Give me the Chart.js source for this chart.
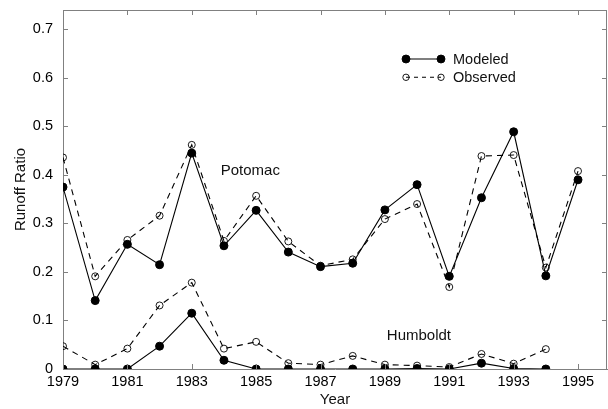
<!DOCTYPE html>
<html>
<head>
<meta charset="utf-8">
<script src="https://cdn.jsdelivr.net/npm/chart.js@4.4.1/dist/chart.umd.min.js"></script>
<style>
    html, body {margin: 0; padding: 0; background: #fff; overflow: hidden;}
    #wrap {width: 608px; height: 409px;}
</style>
</head>
<body>
<div id="wrap"><canvas id="runoff"></canvas></div>
<script>
// runoff ratio by water year, two basins
let years = [1979, 1980, 1981, 1982, 1983, 1984, 1985, 1986, 1987,
             1988, 1989, 1990, 1991, 1992, 1993, 1994, 1995]
let potomacModeled = [0.375, 0.141, 0.257, 0.215, 0.445, 0.254, 0.327, 0.241, 0.211,
                      0.218, 0.328, 0.380, 0.191, 0.353, 0.489, 0.192, 0.390]
let potomacObserved = [0.436, 0.191, 0.266, 0.316, 0.462, 0.264, 0.357, 0.263, 0.213,
                       0.226, 0.309, 0.340, 0.169, 0.439, 0.441, 0.209, 0.408]
let humboldtModeled = [0, 0, 0, 0.047, 0.115, 0.018, 0, 0, 0,
                       0, 0, 0.001, 0, 0.012, 0.001, 0]
let humboldtObserved = [0.047, 0.009, 0.042, 0.131, 0.178, 0.042, 0.056, 0.012, 0.009,
                        0.027, 0.009, 0.007, 0.004, 0.031, 0.011, 0.041]
let yearTicks = [1979, 1981, 1983, 1985, 1987, 1989, 1991, 1993, 1995]
let ratioTicks = [0, 0.1, 0.2, 0.3, 0.4, 0.5, 0.6, 0.7]
let basinLabels = [
    {text: "Potomac", x: 1983.9, y: 0.399},
    {text: "Humboldt", x: 1989.06, y: 0.059}
]

let font = "'Liberation Sans', Arial, Helvetica, sans-serif"
let axisColor = "#808080"

function toPoints (values) {
    return values.map((v, i) => ({x: years[i], y: v}))
}

function modeledSet (values) {
    return {
        data: toPoints(values), borderColor: "#000", borderWidth: 1.1,
        pointRadius: 4, pointBackgroundColor: "#000", pointBorderColor: "#000",
        pointBorderWidth: 1
    }
}

function observedSet (values) {
    return {
        data: toPoints(values), borderColor: "#000", borderWidth: 1.1, borderDash: [6, 5],
        pointRadius: 3.5, pointBackgroundColor: "rgba(0,0,0,0)", pointBorderColor: "#000",
        pointBorderWidth: 0.9
    }
}

// box, inward tick marks, basin names and the key
let decorations = {
    id: "decorations",
    afterDraw (chart) {
        let ctx = chart.ctx
        let a = chart.chartArea
        let xs = chart.scales.x
        let ys = chart.scales.y
        ctx.save()
        ctx.strokeStyle = axisColor
        ctx.lineWidth = 1
        ctx.beginPath()
        ctx.moveTo(a.left, a.top + 0.5)
        ctx.lineTo(a.right, a.top + 0.5)
        ctx.moveTo(a.right - 0.5, a.top)
        ctx.lineTo(a.right - 0.5, a.bottom)
        for (let t of yearTicks) {
            let px = Math.round(xs.getPixelForValue(t)) + 0.5
            ctx.moveTo(px, a.bottom)
            ctx.lineTo(px, a.bottom - 5)
            ctx.moveTo(px, a.top)
            ctx.lineTo(px, a.top + 5)
        }
        for (let t of ratioTicks) {
            let py = Math.round(ys.getPixelForValue(t)) + 0.5
            ctx.moveTo(a.left, py)
            ctx.lineTo(a.left + 5, py)
            ctx.moveTo(a.right, py)
            ctx.lineTo(a.right - 5, py)
        }
        ctx.stroke()

        ctx.fillStyle = "#111"
        ctx.font = "15px " + font
        ctx.textAlign = "left"
        ctx.textBaseline = "alphabetic"
        for (let lab of basinLabels) {
            ctx.fillText(lab.text, xs.getPixelForValue(lab.x), ys.getPixelForValue(lab.y))
        }

        // key
        let kx = a.left + 343
        let ky = a.top + 49
        let rows = [
            {text: "Modeled", dash: [], filled: true, r: 4},
            {text: "Observed", dash: [4, 4], filled: false, r: 3.2}
        ]
        rows.forEach((row, i) => {
            let y = ky + i * 18.3
            ctx.strokeStyle = "#000"
            ctx.lineWidth = 1.1
            ctx.setLineDash(row.dash)
            ctx.beginPath()
            ctx.moveTo(kx, y)
            ctx.lineTo(kx + 35, y)
            ctx.stroke()
            ctx.setLineDash([])
            for (let cx of [kx, kx + 35]) {
                ctx.beginPath()
                ctx.arc(cx, y, row.r, 0, Math.PI * 2)
                if (row.filled) {ctx.fillStyle = "#000"; ctx.fill()}
                ctx.lineWidth = 0.9
                ctx.stroke()
            }
            ctx.fillStyle = "#111"
            ctx.font = "14.5px " + font
            ctx.textBaseline = "middle"
            ctx.fillText(row.text, kx + 47, y + 0.5)
        })
        ctx.restore()
    }
}

let chart = new Chart("runoff", {
    type: "line",
    data: {
        datasets: [
            modeledSet(potomacModeled),
            observedSet(potomacObserved),
            modeledSet(humboldtModeled),
            observedSet(humboldtObserved)
        ]
    },
    options: {
        responsive: true,
        maintainAspectRatio: false,
        animation: {duration: 0},
        layout: {autoPadding: false, padding: {top: 10, right: 1, left: 0, bottom: 0}},
        plugins: {legend: {display: false}, tooltip: {enabled: false}},
        elements: {line: {tension: 0}},
        scales: {
            x: {
                type: "linear", min: 1979, max: 1995.9,
                afterBuildTicks: (scale) => {scale.ticks = yearTicks.map(v => ({value: v}))},
                afterFit: (scale) => {
                    scale.height = 40
                    scale.paddingLeft = 0
                    scale.paddingRight = 0
                },
                grid: {display: false, drawTicks: false},
                border: {display: true, color: axisColor, width: 1},
                ticks: {
                    color: "#000", padding: 4, maxRotation: 0, autoSkip: false,
                    font: {family: font, size: 14.5},
                    callback: (v) => String(v)
                },
                title: {
                    display: true, text: "Year", color: "#111",
                    font: {family: font, size: 15}, padding: {top: 0, bottom: 0}
                }
            },
            y: {
                type: "linear", min: 0, max: 0.74,
                afterBuildTicks: (scale) => {scale.ticks = ratioTicks.map(v => ({value: v}))},
                afterFit: (scale) => {
                    scale.width = 63
                    scale.paddingTop = 0
                    scale.paddingBottom = 0
                },
                grid: {display: false, drawTicks: false},
                border: {display: true, color: axisColor, width: 1},
                ticks: {
                    color: "#000", padding: 10,
                    font: {family: font, size: 14.5},
                    callback: (v) => v === 0 ? "0" : v.toFixed(1)
                },
                title: {
                    display: true, text: "Runoff Ratio", color: "#111",
                    font: {family: font, size: 15}, padding: {top: 12, bottom: 0}
                }
            }
        }
    },
    plugins: [decorations]
})
</script>
</body>
</html>
